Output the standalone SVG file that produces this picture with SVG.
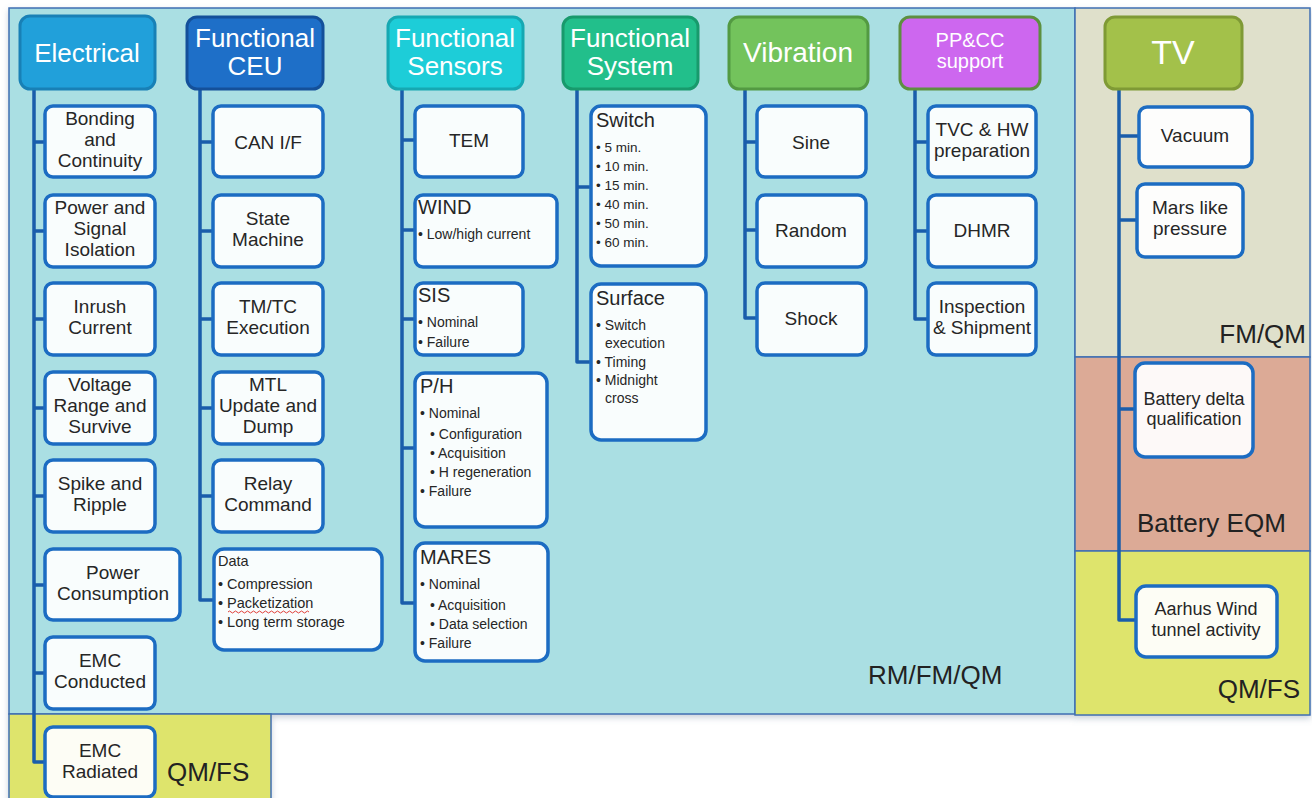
<svg xmlns="http://www.w3.org/2000/svg" width="1312" height="798" viewBox="0 0 1312 798">
<defs>
<style>
.reg{stroke:#3f6fb3;stroke-width:1.5}
.box{fill:#ffffff;fill-opacity:.93;stroke:#1c6cc2;stroke-width:3.5}
.hd{stroke-width:3}
.t{font-family:"Liberation Sans",Arial,sans-serif;font-size:19px;fill:#262626;text-anchor:middle}
.ti{font-family:"Liberation Sans",Arial,sans-serif;font-size:20px;fill:#262626}
.b{font-family:"Liberation Sans",Arial,sans-serif;font-size:14px;fill:#262626}
.h{font-family:"Liberation Sans",Arial,sans-serif;font-size:26px;fill:#ffffff;text-anchor:middle}
.lab{font-family:"Liberation Sans",Arial,sans-serif;font-size:26px;fill:#222}
.conn{fill:none;stroke:#1a5dab;stroke-width:3.5;stroke-linejoin:round}
</style>
<filter id="sh" x="-5%" y="-5%" width="110%" height="115%"><feDropShadow dx="0" dy="3" stdDeviation="3" flood-color="#6b7f99" flood-opacity="0.35"/></filter>
</defs>
<rect width="1312" height="798" fill="#ffffff"/>
<g id="regions" filter="url(#sh)">
<rect class="reg" x="9" y="8" width="1066" height="706" fill="#aadfe3"/>
<rect class="reg" x="9" y="714" width="262" height="90" fill="#dee46c"/>
<rect class="reg" x="1075" y="8" width="235" height="349" fill="#dfe0cb"/>
<rect class="reg" x="1075" y="357" width="235" height="194" fill="#dcaa96"/>
<rect class="reg" x="1075" y="551" width="235" height="164" fill="#dee46c"/>
</g>
<g id="region-labels">
<text class="lab" x="868" y="684">RM/FM/QM</text>
<text class="lab" x="1306" y="343" text-anchor="end">FM/QM</text>
<text class="lab" x="1137" y="532">Battery EQM</text>
<text class="lab" x="1300" y="698" text-anchor="end">QM/FS</text>
<text class="lab" x="167" y="781">QM/FS</text>
</g>
<g id="connectors" class="conn">
<path d="M34 89 V762 H45 M34 142 H45 M34 231 H45 M34 319 H45 M34 408 H45 M34 496 H45 M34 585 H45 M34 673 H45"/>
<path d="M200 89 V600 H214 M200 142 H213 M200 231 H213 M200 319 H213 M200 408 H213 M200 496 H213"/>
<path d="M402 89 V603 H415 M402 140 H415 M402 230 H415 M402 319 H415 M402 448 H415"/>
<path d="M577 89 V362 H591 M577 187 H591"/>
<path d="M745 89 V318 H757 M745 142 H757 M745 230 H757"/>
<path d="M915 89 V319 H928 M915 142 H928 M915 231 H928"/>
<path d="M1119 89 V620 H1136 M1119 136 H1139 M1119 220 H1137 M1119 409 H1135"/>
</g>
<g id="h-electrical"><rect class="hd" x="20" y="16" width="135" height="73" rx="10" fill="#21a0da" stroke="#1880b6"/><text class="h" x="87" y="62">Electrical</text></g>
<g id="h-ceu"><rect class="hd" x="187" y="17" width="136" height="72" rx="10" fill="#1e6fc8" stroke="#14509a"/><text class="h" x="255" y="47">Functional</text><text class="h" x="255" y="75">CEU</text></g>
<g id="h-sensors"><rect class="hd" x="388" y="17" width="135" height="72" rx="10" fill="#1dcdd8" stroke="#16a8b2"/><text class="h" x="455" y="47">Functional</text><text class="h" x="455" y="75">Sensors</text></g>
<g id="h-system"><rect class="hd" x="563" y="17" width="135" height="72" rx="10" fill="#22bf8b" stroke="#189a6c"/><text class="h" x="630" y="47">Functional</text><text class="h" x="630" y="75">System</text></g>
<g id="h-vibration"><rect class="hd" x="729" y="17" width="139" height="72" rx="10" fill="#73c35c" stroke="#539a42"/><text class="h" x="798" y="62" style="font-size:28px">Vibration</text></g>
<g id="h-ppcc"><rect class="hd" x="900" y="17" width="140" height="72" rx="10" fill="#cd67ef" stroke="#5d8f40"/><text class="h" x="970" y="47" style="font-size:20px">PP&amp;CC</text><text class="h" x="970" y="68" style="font-size:20px">support</text></g>
<g id="h-tv"><rect class="hd" x="1105" y="17" width="137" height="72" rx="10" fill="#a3c14a" stroke="#7f9a35"/><text class="h" x="1173" y="64" style="font-size:34px">TV</text></g>
<g id="n-bonding"><rect class="box" x="45" y="106" width="110" height="71" rx="8"/><text class="t" x="100" y="125">Bonding</text><text class="t" x="100" y="146">and</text><text class="t" x="100" y="167">Continuity</text></g>
<g id="n-isolation"><rect class="box" x="45" y="195" width="110" height="72" rx="8"/><text class="t" x="100" y="214">Power and</text><text class="t" x="100" y="235">Signal</text><text class="t" x="100" y="256">Isolation</text></g>
<g id="n-inrush"><rect class="box" x="45" y="283" width="110" height="72" rx="8"/><text class="t" x="100" y="313">Inrush</text><text class="t" x="100" y="334">Current</text></g>
<g id="n-voltage"><rect class="box" x="45" y="372" width="110" height="72" rx="8"/><text class="t" x="100" y="391">Voltage</text><text class="t" x="100" y="412">Range and</text><text class="t" x="100" y="433">Survive</text></g>
<g id="n-spike"><rect class="box" x="45" y="460" width="110" height="72" rx="8"/><text class="t" x="100" y="490">Spike and</text><text class="t" x="100" y="511">Ripple</text></g>
<g id="n-power"><rect class="box" x="45" y="549" width="135" height="71" rx="8"/><text class="t" x="113" y="579">Power</text><text class="t" x="113" y="600">Consumption</text></g>
<g id="n-emcc"><rect class="box" x="45" y="637" width="110" height="72" rx="8"/><text class="t" x="100" y="667">EMC</text><text class="t" x="100" y="688">Conducted</text></g>
<g id="n-emcr"><rect class="box" x="45" y="727" width="110" height="70" rx="8"/><text class="t" x="100" y="757">EMC</text><text class="t" x="100" y="778">Radiated</text></g>
<g id="n-can"><rect class="box" x="213" y="106" width="110" height="71" rx="8"/><text class="t" x="268" y="149">CAN I/F</text></g>
<g id="n-state"><rect class="box" x="213" y="195" width="110" height="72" rx="8"/><text class="t" x="268" y="225">State</text><text class="t" x="268" y="246">Machine</text></g>
<g id="n-tmtc"><rect class="box" x="213" y="283" width="110" height="72" rx="8"/><text class="t" x="268" y="313">TM/TC</text><text class="t" x="268" y="334">Execution</text></g>
<g id="n-mtl"><rect class="box" x="213" y="372" width="110" height="72" rx="8"/><text class="t" x="268" y="391">MTL</text><text class="t" x="268" y="412">Update and</text><text class="t" x="268" y="433">Dump</text></g>
<g id="n-relay"><rect class="box" x="213" y="460" width="110" height="72" rx="8"/><text class="t" x="268" y="490">Relay</text><text class="t" x="268" y="511">Command</text></g>
<g id="n-data"><rect class="box" x="214" y="549" width="168" height="101" rx="10"/><text class="b" x="218" y="566" style="font-size:14.5px">Data</text><text class="b" x="218" y="589" style="font-size:14.5px">• Compression</text><text class="b" x="218" y="608" style="font-size:14.5px">• Packetization</text><path d="M228 612 q1.5 -2 3 0 t3 0 t3 0 t3 0 t3 0 t3 0 t3 0 t3 0 t3 0 t3 0 t3 0 t3 0 t3 0 t3 0 t3 0 t3 0 t3 0 t3 0 t3 0 t3 0 t3 0 t3 0 t3 0 t3 0 t3 0 t3 0 t3 0" fill="none" stroke="#e0403a" stroke-width="1"/><text class="b" x="218" y="627" style="font-size:14.5px">• Long term storage</text></g>
<g id="n-tem"><rect class="box" x="415" y="106" width="108" height="71" rx="8"/><text class="t" x="469" y="147">TEM</text></g>
<g id="n-wind"><rect class="box" x="415" y="195" width="142" height="72" rx="8"/><text class="ti" x="418" y="214">WIND</text><text class="b" x="418" y="239">• Low/high current</text></g>
<g id="n-sis"><rect class="box" x="415" y="283" width="108" height="72" rx="8"/><text class="ti" x="418" y="302">SIS</text><text class="b" x="418" y="327">• Nominal</text><text class="b" x="418" y="347">• Failure</text></g>
<g id="n-ph"><rect class="box" x="415" y="373" width="132" height="154" rx="10"/><text class="ti" x="420" y="393">P/H</text><text class="b" x="420" y="418">• Nominal</text><text class="b" x="430" y="439">• Configuration</text><text class="b" x="430" y="458">• Acquisition</text><text class="b" x="430" y="477">• H regeneration</text><text class="b" x="420" y="496">• Failure</text></g>
<g id="n-mares"><rect class="box" x="415" y="543" width="133" height="118" rx="10"/><text class="ti" x="420" y="564">MARES</text><text class="b" x="420" y="589">• Nominal</text><text class="b" x="430" y="610">• Acquisition</text><text class="b" x="430" y="629">• Data selection</text><text class="b" x="420" y="648">• Failure</text></g>
<g id="n-switch"><rect class="box" x="591" y="106" width="115" height="160" rx="10"/><text class="ti" x="596" y="127">Switch</text><text class="b" x="596" y="152" style="font-size:13.5px">• 5 min.</text><text class="b" x="596" y="171" style="font-size:13.5px">• 10 min.</text><text class="b" x="596" y="190" style="font-size:13.5px">• 15 min.</text><text class="b" x="596" y="209" style="font-size:13.5px">• 40 min.</text><text class="b" x="596" y="228" style="font-size:13.5px">• 50 min.</text><text class="b" x="596" y="247" style="font-size:13.5px">• 60 min.</text></g>
<g id="n-surface"><rect class="box" x="591" y="284" width="115" height="156" rx="10"/><text class="ti" x="596" y="305">Surface</text><text class="b" x="596" y="330">• Switch</text><text class="b" x="605" y="348">execution</text><text class="b" x="596" y="367">• Timing</text><text class="b" x="596" y="385">• Midnight</text><text class="b" x="605" y="403">cross</text></g>
<g id="n-sine"><rect class="box" x="757" y="106" width="109" height="71" rx="8"/><text class="t" x="811" y="149">Sine</text></g>
<g id="n-random"><rect class="box" x="757" y="195" width="109" height="72" rx="8"/><text class="t" x="811" y="237">Random</text></g>
<g id="n-shock"><rect class="box" x="757" y="283" width="109" height="72" rx="8"/><text class="t" x="811" y="325">Shock</text></g>
<g id="n-tvc"><rect class="box" x="928" y="106" width="108" height="71" rx="8"/><text class="t" x="982" y="136">TVC &amp; HW</text><text class="t" x="982" y="157">preparation</text></g>
<g id="n-dhmr"><rect class="box" x="928" y="195" width="108" height="72" rx="8"/><text class="t" x="982" y="237">DHMR</text></g>
<g id="n-inspection"><rect class="box" x="928" y="283" width="108" height="72" rx="8"/><text class="t" x="982" y="313">Inspection</text><text class="t" x="982" y="334">&amp; Shipment</text></g>
<g id="n-vacuum"><rect class="box" x="1139" y="107" width="113" height="60" rx="8"/><text class="t" x="1195" y="142">Vacuum</text></g>
<g id="n-mars"><rect class="box" x="1137" y="184" width="106" height="73" rx="8"/><text class="t" x="1190" y="214">Mars like</text><text class="t" x="1190" y="235">pressure</text></g>
<g id="n-battery"><rect class="box" x="1135" y="363" width="118" height="94" rx="10"/><text class="t" x="1194" y="405" style="font-size:18px">Battery delta</text><text class="t" x="1194" y="425" style="font-size:18px">qualification</text></g>
<g id="n-aarhus"><rect class="box" x="1136" y="586" width="141" height="71" rx="10"/><text class="t" x="1206" y="615" style="font-size:18px">Aarhus Wind</text><text class="t" x="1206" y="636" style="font-size:18px">tunnel activity</text></g>
</svg>
